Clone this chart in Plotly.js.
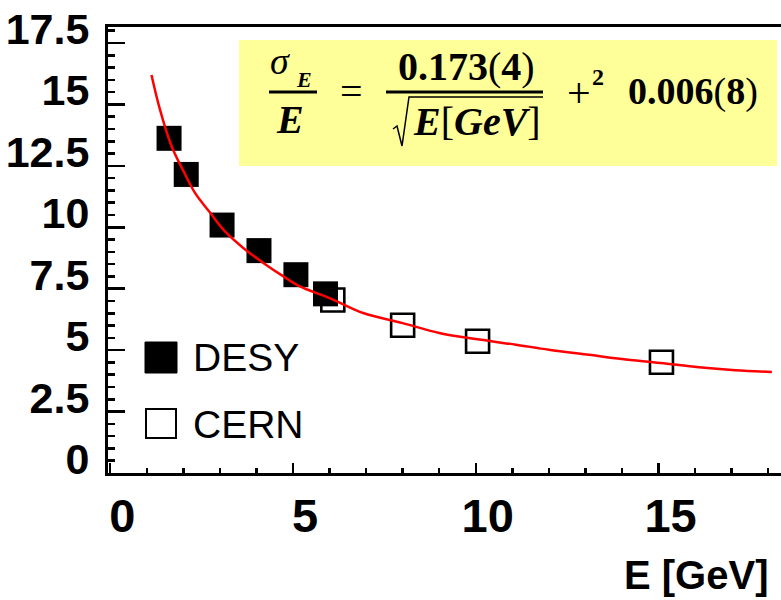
<!DOCTYPE html>
<html>
<head>
<meta charset="utf-8">
<script src="https://cdn.plot.ly/plotly-3.0.1.min.js"></script>
<style>html,body{margin:0;padding:0;background:#fff;}#chart{width:781px;height:600px;}</style>
</head>
<body>
<div id="chart"></div>
<script>
// ---- data ----
const desyE = [1.61, 2.08, 3.06, 4.07, 5.08, 5.89];
const desyRes = [13.62, 12.15, 10.09, 9.05, 8.07, 7.29];
const cernE = [6.09, 8.0, 10.05, 15.08];
const cernRes = [7.04, 6.01, 5.36, 4.51];
const fitE = [1.13, 1.36, 1.68, 2.0, 2.32, 2.73, 3.14, 3.64, 4.19, 4.74, 5.19, 6.0, 6.92, 8.0, 9.0, 10.1, 11.1, 12.0, 13.1, 14.0, 15.05, 16.1, 17.1, 18.1];
const fitRes = [16.2, 14.8, 13.3, 12.3, 11.4, 10.6, 9.83, 9.16, 8.55, 8.0, 7.59, 7.12, 6.51, 6.1, 5.7, 5.43, 5.22, 5.02, 4.81, 4.64, 4.48, 4.3, 4.18, 4.11];
const xTickVals = [0, 5, 10, 15];
const xTickText = ['0', '5', '10', '15'];
const yTickVals = [0, 2.5, 5, 7.5, 10, 12.5, 15, 17.5];
const yTickText = ['0', '2.5', '5', '7.5', '10', '12.5', '15', '17.5'];
const legendNames = ['DESY', 'CERN'];
const xTitle = 'E [GeV]';

// ---- layout helpers (pixel -> paper) ----
const WW = 781, HH = 600, L = 108, R = 0, T = 27, B = 127;
const PW = WW - L - R, PH = HH - T - B;
const px = x => (x - L) / PW;
const py = y => (HH - B - y) / PH;

const serif = 'Liberation Serif, Times New Roman, serif';
const sans = 'Liberation Sans, Arial, sans-serif';
const thin = 'DejaVu Sans ExtraLight, Liberation Sans, Arial, sans-serif';

const traces = [
  {x: cernE, y: cernRes, name: legendNames[1], type: 'scatter', mode: 'markers',
   marker: {symbol: 'square-open', size: 23, color: '#000', line: {width: 2.6, color: '#000'}}},
  {x: desyE, y: desyRes, name: legendNames[0], type: 'scatter', mode: 'markers',
   marker: {symbol: 'square', size: 25, color: '#000', line: {width: 0}}},
  {x: fitE, y: fitRes, name: 'fit', type: 'scatter', mode: 'lines',
   line: {color: '#ff0000', width: 2.5, shape: 'spline'}}
];

function ann(text, x, y, size, opts) {
  return Object.assign({text: text, xref: 'paper', yref: 'paper', x: px(x), y: py(y),
    xanchor: 'center', yanchor: 'middle', showarrow: false,
    font: {family: serif, size: size, color: '#000'}}, opts || {});
}

const annotations = [
  ann('<i>σ</i>', 280, 61, 38),
  ann('<b><i>E</i></b>', 304, 79, 22),
  ann('<b><i>E</i></b>', 290, 119, 40),
  ann('=', 351, 92, 40),
  ann('<b>0.173</b>(<b>4</b>)', 466, 66, 40),
  ann('<b><i>E</i></b>[<b><i>GeV</i></b>]', 477, 122, 40),
  ann('+', 579, 93, 42),
  ann('<b>2</b>', 598, 77, 24),
  ann('<b>0.006</b>(<b>8</b>)', 693, 92, 38),
  // legend texts
  {text: legendNames[0], xref: 'paper', yref: 'paper', x: px(191), y: py(357), xanchor: 'left', yanchor: 'middle',
   showarrow: false, font: {family: thin, size: 39, color: '#000', weight: 200}},
  {text: legendNames[1], xref: 'paper', yref: 'paper', x: px(191), y: py(424), xanchor: 'left', yanchor: 'middle',
   showarrow: false, font: {family: thin, size: 39, color: '#000', weight: 200}},
  // axis title
  {text: '<b>' + xTitle + '</b>', xref: 'paper', yref: 'paper', x: px(770), y: py(599), xanchor: 'right', yanchor: 'bottom',
   showarrow: false, font: {family: sans, size: 40, color: '#000'}}
];

const shapes = [
  {type: 'rect', xref: 'paper', yref: 'paper', x0: px(239), x1: px(777), y0: py(166), y1: py(40),
   fillcolor: '#ffff99', line: {width: 0}, layer: 'below'},
  {type: 'line', xref: 'paper', yref: 'paper', x0: px(269), x1: px(317), y0: py(92), y1: py(92), line: {color: '#000', width: 3}},
  {type: 'line', xref: 'paper', yref: 'paper', x0: px(386), x1: px(543), y0: py(92), y1: py(92), line: {color: '#000', width: 3}},
  {type: 'path', xref: 'paper', yref: 'paper',
   path: 'M' + px(393) + ',' + py(129) + ' L' + px(397) + ',' + py(126) + ' L' + px(402) + ',' + py(146) +
         ' L' + px(409) + ',' + py(97) + ' L' + px(543) + ',' + py(97),
   line: {color: '#000', width: 1.5}},
  // legend symbols
  {type: 'rect', xref: 'paper', yref: 'paper', x0: px(145), x1: px(177), y0: py(373), y1: py(342),
   fillcolor: '#000', line: {color: '#000', width: 1}},
  {type: 'rect', xref: 'paper', yref: 'paper', x0: px(146), x1: px(176), y0: py(438), y1: py(409),
   fillcolor: 'rgba(0,0,0,0)', line: {color: '#000', width: 2}}
];

const layout = {
  width: WW, height: HH,
  margin: {l: L, r: R, t: T, b: B, pad: 0},
  paper_bgcolor: '#fff', plot_bgcolor: '#fff',
  showlegend: false,
  xaxis: {
    range: [-0.06, 18.35], showgrid: false, zeroline: false,
    showline: true, linecolor: '#000', linewidth: 3, mirror: true,
    ticks: 'inside', ticklen: 10, tickwidth: 2.5, tickcolor: '#000',
    tickmode: 'array', tickvals: xTickVals, ticktext: xTickText,
    tickfont: {family: sans, size: 47, color: '#000', weight: 'bold'},
    ticklabelshift: 12, ticklabelstandoff: 0,
    minor: {dtick: 1, ticks: 'inside', ticklen: 5, tickwidth: 2.5, tickcolor: '#000', showgrid: false}
  },
  yaxis: {
    range: [0, 18.15], showgrid: false, zeroline: false,
    showline: true, linecolor: '#000', linewidth: 3, mirror: true,
    ticks: 'inside', ticklen: 17, tickwidth: 2.5, tickcolor: '#000',
    tickmode: 'array', tickvals: yTickVals, ticktext: yTickText,
    tickfont: {family: sans, size: 43, color: '#000', weight: 'bold'},
    ticklabelshift: -14, ticklabelstandoff: 7,
    minor: {dtick: 0.5, ticks: 'inside', ticklen: 7, tickwidth: 2.5, tickcolor: '#000', showgrid: false}
  },
  annotations: annotations,
  shapes: shapes
};

Plotly.newPlot('chart', traces, layout, {staticPlot: true, displayModeBar: false});
</script>
</body>
</html>
